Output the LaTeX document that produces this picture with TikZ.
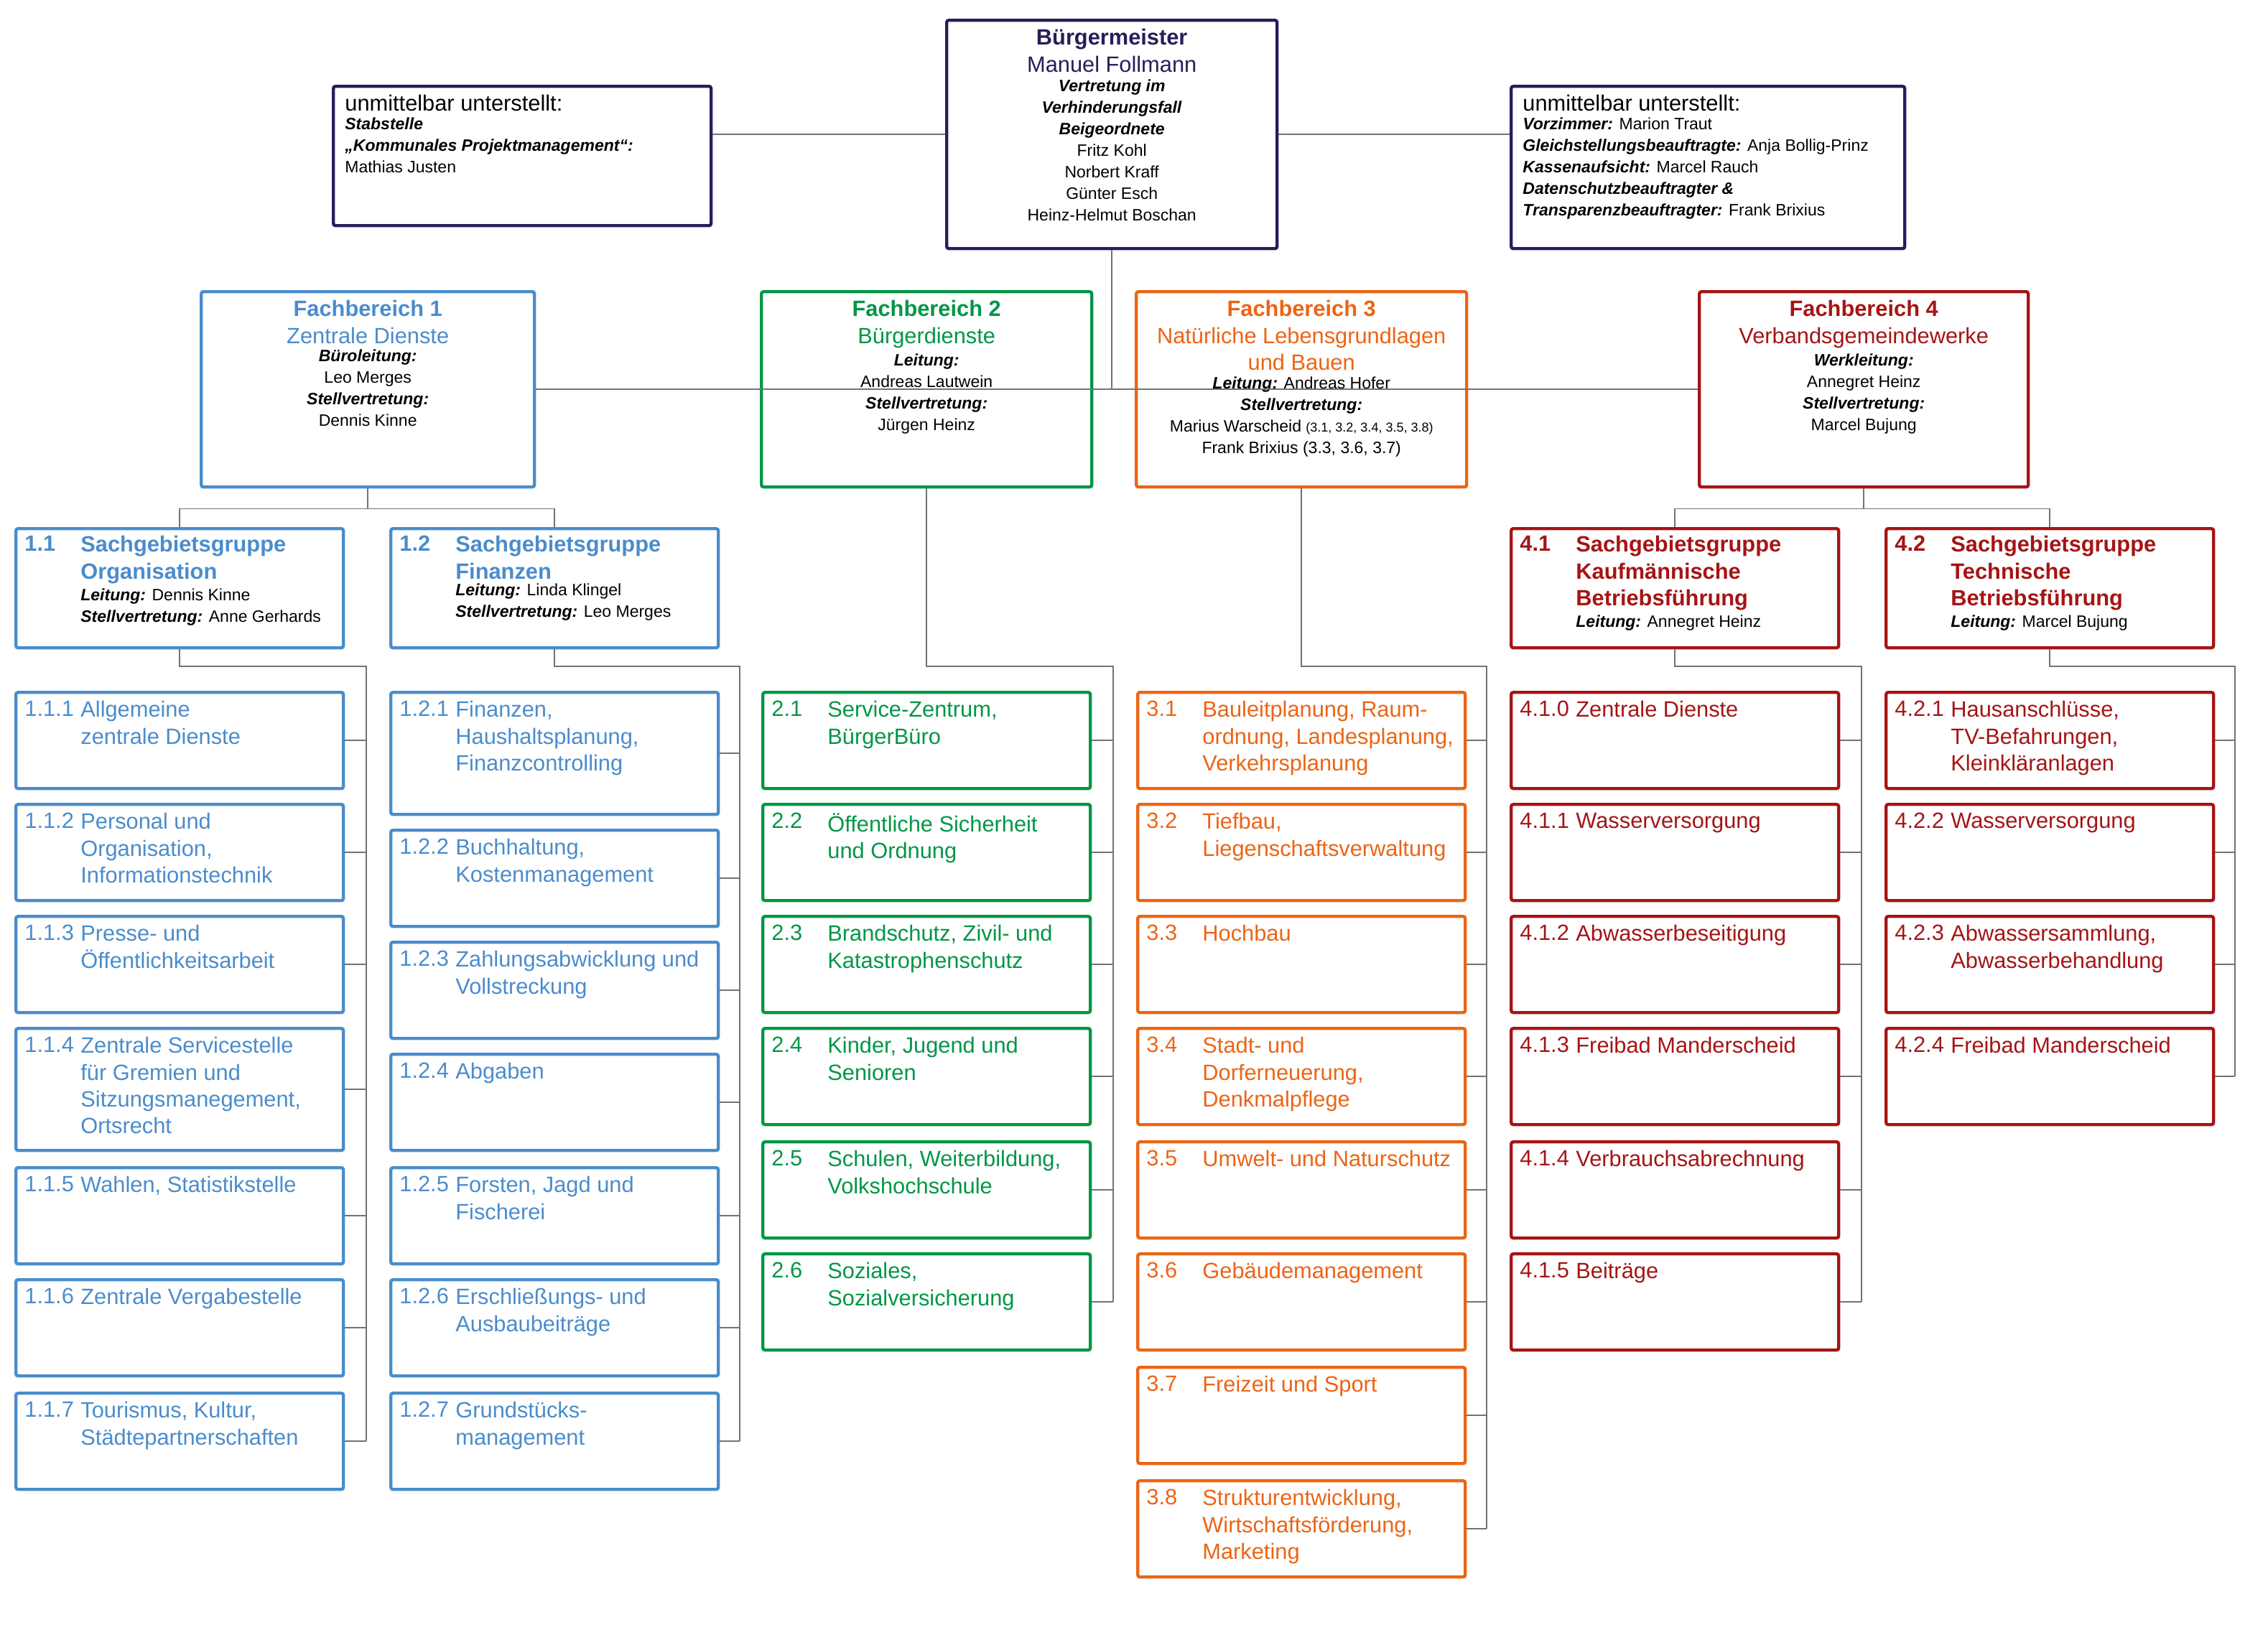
\documentclass[tikz,border=0pt]{standalone}
\usepackage{fontspec}
\setmainfont{Liberation Sans}
\usetikzlibrary{calc,positioning}
\definecolor{navy}{RGB}{38,30,90}
\definecolor{fbblue}{RGB}{74,140,204}
\definecolor{fbgreen}{RGB}{0,150,70}
\definecolor{fborange}{RGB}{236,100,20}
\definecolor{fbred}{RGB}{165,20,20}
\newcommand\fnorm{\fontsize{15.4}{18.7}\selectfont}
\newcommand\fsmall{\fontsize{11.5}{15}\selectfont}
\tikzset{
  box/.style={draw,line width=2.2pt,rounded corners=1.5pt,anchor=north west,
    minimum width=228pt,inner sep=0pt},
  txt/.style={inner sep=0pt,anchor=north west,align=left,font=\fnorm},
  conn/.style={draw=black!55,line width=0.9pt},
}
% unit box: name, x, y, height, colour, number, text
\newcommand\orgunit[7]{%
  \node [box,draw=#5,minimum height=#4pt] (#1) at (#2,#3) {};
  \node [txt,text=#5] (#1num) at ($(#1.north west)+(7,7)$) {#6};
  \node [txt,text=#5] (#1txt) at ($(#1.north west)+(46,7)$) {#7};
}
% group box: name, x, y, colour, number, title, persons
\newcommand\orggroup[7]{%
  \node [box,draw=#4,minimum height=83pt] (#1) at (#2,#3) {};
  \node [txt,text=#4,font=\fnorm\bfseries] (#1num) at ($(#1.north west)+(7,6)$) {#5};
  \node [txt,text=#4,font=\fnorm\bfseries] (#1txt) at ($(#1.north west)+(46,6)$) {#6};
  \node [txt,font=\fsmall] (#1pers) at ($(#1txt.south west)+(0,3)$) {#7};
}
% fachbereich box: name, x, width, colour, title lines, persons
\newcommand\orgfb[6]{%
  \node [box,draw=#4,minimum width=#3pt,minimum height=136pt] (#1) at (#2,202) {};
  \node [txt,anchor=north,align=center,text=#4] (#1txt) at ($(#1.north)+(0,7)$)
    {#5};
  \node [txt,anchor=north,align=center,font=\fsmall] (#1pers) at ($(#1txt.south)+(0,4)$)
    {#6};
}
\begin{document}
\begin{tikzpicture}[x=1pt,y=-1pt]
  \useasboundingbox (0,0) rectangle (1579,1138);
  % mayor and staff
  \node [box,draw=navy,minimum width=230pt,minimum height=159pt] (bm) at (658,13) {};
  \node [txt,anchor=north,align=center,text=navy] (bmtxt) at ($(bm.north)+(0,7)$)
    {\textbf{Bürgermeister}\\Manuel Follmann};
  \node [txt,anchor=north,align=center,font=\fsmall] (bmpers) at ($(bmtxt.south)+(0,5)$)
    {\textbf{\textit{Vertretung im}}\\\textbf{\textit{Verhinderungsfall}}\\
     \textbf{\textit{Beigeordnete}}\\Fritz Kohl\\Norbert Kraff\\Günter Esch\\
     Heinz-Helmut Boschan};
  \node [box,draw=navy,minimum width=263pt,minimum height=97pt] (stl) at (231,59) {};
  \node [txt] (stltxt) at ($(stl.north west)+(9,7)$) {unmittelbar unterstellt:};
  \node [txt,font=\fsmall] (stlpers) at ($(stltxt.south west)+(0,4)$)
    {\textbf{\textit{Stabstelle}}\\\textbf{\textit{„Kommunales Projektmanagement“:}}\\
     Mathias Justen};
  \node [box,draw=navy,minimum width=274pt,minimum height=113pt] (str) at (1051,59) {};
  \node [txt] (strtxt) at ($(str.north west)+(9,7)$) {unmittelbar unterstellt:};
  \node [txt,font=\fsmall] (strpers) at ($(strtxt.south west)+(0,4)$)
    {\textbf{\textit{Vorzimmer:}} Marion Traut\\
     \textbf{\textit{Gleichstellungsbeauftragte:}} Anja Bollig-Prinz\\
     \textbf{\textit{Kassenaufsicht:}} Marcel Rauch\\
     \textbf{\textit{Datenschutzbeauftragter \&}}\\
     \textbf{\textit{Transparenzbeauftragter:}} Frank Brixius};
  \draw [conn] (bm.west) -- (bm.west -| stl.east);
  \draw [conn] (bm.east) -- (bm.east -| str.west);
  % fachbereiche
  \orgfb{fb1}{139}{232}{fbblue}{\textbf{Fachbereich 1}\\Zentrale Dienste}
    {\textbf{\textit{Büroleitung:}}\\Leo Merges\\\textbf{\textit{Stellvertretung:}}\\Dennis Kinne}
  \orgfb{fb2}{529}{230}{fbgreen}{\textbf{Fachbereich 2}\\Bürgerdienste}
    {\textbf{\textit{Leitung:}}\\Andreas Lautwein\\\textbf{\textit{Stellvertretung:}}\\Jürgen Heinz}
  \orgfb{fb3}{790}{230}{fborange}{\textbf{Fachbereich 3}\\Natürliche Lebensgrundlagen\\und Bauen}
    {\textbf{\textit{Leitung:}} Andreas Hofer\\\textbf{\textit{Stellvertretung:}}\\
     Marius Warscheid {\fontsize{9}{15}\selectfont(3.1, 3.2, 3.4, 3.5, 3.8)}\\
     Frank Brixius (3.3, 3.6, 3.7)}
  \orgfb{fb4}{1182}{229}{fbred}{\textbf{Fachbereich 4}\\Verbandsgemeindewerke}
    {\textbf{\textit{Werkleitung:}}\\Annegret Heinz\\\textbf{\textit{Stellvertretung:}}\\Marcel Bujung}
  \draw [conn] (bm.south) -- (bm.south |- fb1.east);
  \draw [conn] (fb1.east) -- (fb4.west);
  % sachgebietsgruppen
  \orggroup{g11}{10}{367}{fbblue}{1.1}{Sachgebietsgruppe\\Organisation}
    {\textbf{\textit{Leitung:}} Dennis Kinne\\\textbf{\textit{Stellvertretung:}} Anne Gerhards}
  \orggroup{g12}{271}{367}{fbblue}{1.2}{Sachgebietsgruppe\\Finanzen}
    {\textbf{\textit{Leitung:}} Linda Klingel\\\textbf{\textit{Stellvertretung:}} Leo Merges}
  \orggroup{g41}{1051}{367}{fbred}{4.1}{Sachgebietsgruppe\\Kaufmännische\\Betriebsführung}
    {\textbf{\textit{Leitung:}} Annegret Heinz}
  \orggroup{g42}{1312}{367}{fbred}{4.2}{Sachgebietsgruppe\\Technische\\Betriebsführung}
    {\textbf{\textit{Leitung:}} Marcel Bujung}
  \coordinate (split1) at ($(fb1.south)+(0,14)$);
  \coordinate (split4) at ($(fb4.south)+(0,14)$);
  \draw [conn] (fb1.south) -- (split1);
  \draw [conn] (g11.north) |- (split1) -| (g12.north);
  \draw [conn] (fb4.south) -- (split4);
  \draw [conn] (g41.north) |- (split4) -| (g42.north);
  % sachgebiete 1.1
  \orgunit{u111}{10}{481}{67}{fbblue}{1.1.1}{Allgemeine\\zentrale Dienste}
  \orgunit{u112}{10}{559}{67}{fbblue}{1.1.2}{Personal und\\Organisation,\\Informationstechnik}
  \orgunit{u113}{10}{637}{67}{fbblue}{1.1.3}{Presse- und\\Öffentlichkeitsarbeit}
  \orgunit{u114}{10}{715}{85}{fbblue}{1.1.4}{Zentrale Servicestelle\\für Gremien und\\Sitzungsmanegement,\\Ortsrecht}
  \orgunit{u115}{10}{812}{67}{fbblue}{1.1.5}{Wahlen, Statistikstelle}
  \orgunit{u116}{10}{890}{67}{fbblue}{1.1.6}{Zentrale Vergabestelle}
  \orgunit{u117}{10}{969}{67}{fbblue}{1.1.7}{Tourismus, Kultur,\\Städtepartnerschaften}
  % sachgebiete 1.2
  \orgunit{u121}{271}{481}{85}{fbblue}{1.2.1}{Finanzen,\\Haushaltsplanung,\\Finanzcontrolling}
  \orgunit{u122}{271}{577}{67}{fbblue}{1.2.2}{Buchhaltung,\\Kostenmanagement}
  \orgunit{u123}{271}{655}{67}{fbblue}{1.2.3}{Zahlungsabwicklung und\\Vollstreckung}
  \orgunit{u124}{271}{733}{67}{fbblue}{1.2.4}{Abgaben}
  \orgunit{u125}{271}{812}{67}{fbblue}{1.2.5}{Forsten, Jagd und\\Fischerei}
  \orgunit{u126}{271}{890}{67}{fbblue}{1.2.6}{Erschließungs- und\\Ausbaubeiträge}
  \orgunit{u127}{271}{969}{67}{fbblue}{1.2.7}{Grundstücks-\\management}
  % sachgebiete 2
  \orgunit{u21}{530}{481}{67}{fbgreen}{2.1}{Service-Zentrum,\\BürgerBüro}
  \orgunit{u22}{530}{559}{67}{fbgreen}{2.2}{Öffentliche Sicherheit\\und Ordnung}
  \orgunit{u23}{530}{637}{67}{fbgreen}{2.3}{Brandschutz, Zivil- und\\Katastrophenschutz}
  \orgunit{u24}{530}{715}{67}{fbgreen}{2.4}{Kinder, Jugend und\\Senioren}
  \orgunit{u25}{530}{794}{67}{fbgreen}{2.5}{Schulen, Weiterbildung,\\Volkshochschule}
  \orgunit{u26}{530}{872}{67}{fbgreen}{2.6}{Soziales,\\Sozialversicherung}
  % sachgebiete 3
  \orgunit{u31}{791}{481}{67}{fborange}{3.1}{Bauleitplanung, Raum-\\ordnung, Landesplanung,\\Verkehrsplanung}
  \orgunit{u32}{791}{559}{67}{fborange}{3.2}{Tiefbau,\\Liegenschaftsverwaltung}
  \orgunit{u33}{791}{637}{67}{fborange}{3.3}{Hochbau}
  \orgunit{u34}{791}{715}{67}{fborange}{3.4}{Stadt- und\\Dorferneuerung,\\Denkmalpflege}
  \orgunit{u35}{791}{794}{67}{fborange}{3.5}{Umwelt- und Naturschutz}
  \orgunit{u36}{791}{872}{67}{fborange}{3.6}{Gebäudemanagement}
  \orgunit{u37}{791}{951}{67}{fborange}{3.7}{Freizeit und Sport}
  \orgunit{u38}{791}{1030}{67}{fborange}{3.8}{Strukturentwicklung,\\Wirtschaftsförderung,\\Marketing}
  % sachgebiete 4.1
  \orgunit{u410}{1051}{481}{67}{fbred}{4.1.0}{Zentrale Dienste}
  \orgunit{u411}{1051}{559}{67}{fbred}{4.1.1}{Wasserversorgung}
  \orgunit{u412}{1051}{637}{67}{fbred}{4.1.2}{Abwasserbeseitigung}
  \orgunit{u413}{1051}{715}{67}{fbred}{4.1.3}{Freibad Manderscheid}
  \orgunit{u414}{1051}{794}{67}{fbred}{4.1.4}{Verbrauchsabrechnung}
  \orgunit{u415}{1051}{872}{67}{fbred}{4.1.5}{Beiträge}
  % sachgebiete 4.2
  \orgunit{u421}{1312}{481}{67}{fbred}{4.2.1}{Hausanschlüsse,\\TV-Befahrungen,\\Kleinkläranlagen}
  \orgunit{u422}{1312}{559}{67}{fbred}{4.2.2}{Wasserversorgung}
  \orgunit{u423}{1312}{637}{67}{fbred}{4.2.3}{Abwassersammlung,\\Abwasserbehandlung}
  \orgunit{u424}{1312}{715}{67}{fbred}{4.2.4}{Freibad Manderscheid}
  % busses
  \coordinate (bus11) at (255,464);
  \coordinate (bus12) at (515,464);
  \coordinate (bus2) at (775,464);
  \coordinate (bus3) at (1035,464);
  \coordinate (bus41) at (1296,464);
  \coordinate (bus42) at (1556,464);
  \draw [conn] (g11.south) |- (bus11) -- (bus11 |- u117.east);
  \draw [conn] (g12.south) |- (bus12) -- (bus12 |- u127.east);
  \draw [conn] (fb2.south) |- (bus2) -- (bus2 |- u26.east);
  \draw [conn] (fb3.south) |- (bus3) -- (bus3 |- u38.east);
  \draw [conn] (g41.south) |- (bus41) -- (bus41 |- u415.east);
  \draw [conn] (g42.south) |- (bus42) -- (bus42 |- u424.east);
  \foreach \n in {u111,u112,u113,u114,u115,u116,u117}
    \draw [conn] (\n.east) -- (\n.east -| bus11);
  \foreach \n in {u121,u122,u123,u124,u125,u126,u127}
    \draw [conn] (\n.east) -- (\n.east -| bus12);
  \foreach \n in {u21,u22,u23,u24,u25,u26}
    \draw [conn] (\n.east) -- (\n.east -| bus2);
  \foreach \n in {u31,u32,u33,u34,u35,u36,u37,u38}
    \draw [conn] (\n.east) -- (\n.east -| bus3);
  \foreach \n in {u410,u411,u412,u413,u414,u415}
    \draw [conn] (\n.east) -- (\n.east -| bus41);
  \foreach \n in {u421,u422,u423,u424}
    \draw [conn] (\n.east) -- (\n.east -| bus42);
\end{tikzpicture}
\end{document}
